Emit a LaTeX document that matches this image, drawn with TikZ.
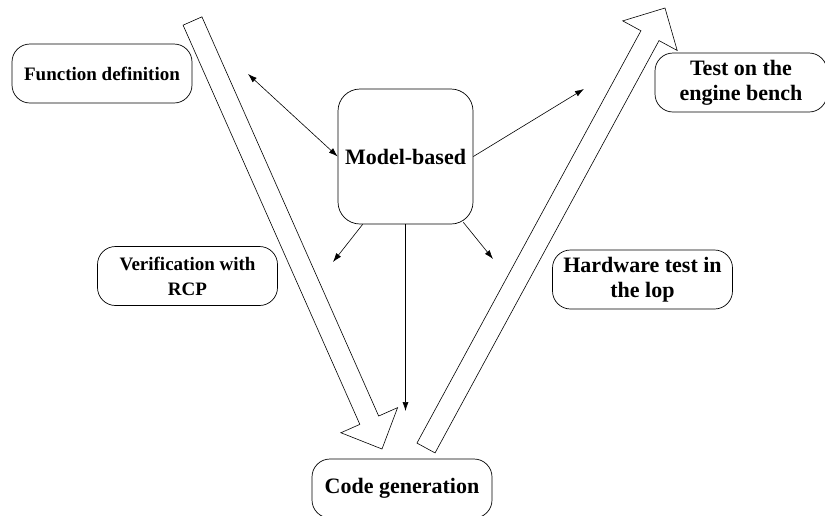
\documentclass[tikz,border=0pt]{standalone}
\usepackage{fontspec}
\setmainfont{Liberation Serif}
\usetikzlibrary{calc,arrows.meta}
\tikzset{
  stage/.style={draw, line width=0.7pt, rounded corners=18pt, align=center,
    minimum width=180pt, minimum height=59pt, inner sep=0pt,
    font=\bfseries\fontsize{22}{25}\selectfont},
  smalltext/.style={font=\bfseries\fontsize{19}{25}\selectfont},
  link/.style={line width=0.6pt, -{Latex[length=9pt,width=6pt]}},
  twolink/.style={line width=0.6pt, {Latex[length=9pt,width=6pt]}-{Latex[length=9pt,width=6pt]}},
}
% hollow arrow: name, tail, tip
\newcommand\hollowarrow[3]{%
  \coordinate (#1b) at ($(#3)!31.5pt!(#2)$);
  \draw[line width=0.6pt, line join=miter]
    ($(#2)!10.3pt!90:(#3)$) -- ($(#1b)!10.3pt!90:(#3)$)
    -- ($(#1b)!31pt!90:(#3)$) -- (#3) -- ($(#1b)!31pt!-90:(#3)$)
    -- ($(#1b)!10.3pt!-90:(#3)$) -- ($(#2)!10.3pt!-90:(#3)$) -- cycle;
}
\begin{document}
\begin{tikzpicture}[x=1pt,y=-1pt]
\useasboundingbox (0,0) rectangle (825,515);
%
\node[stage,smalltext] (fundef) at (102,73.5) {Function definition};
\node[stage,minimum width=135pt,minimum height=135pt,rounded corners=22pt] (model) at (405.5,156.5) {Model-based};
\node[stage,minimum width=172pt] (bench) at (741,82.5) {Test on the\\engine bench};
\node[stage,smalltext] (verif) at (187.5,276) {Verification with\\RCP};
\node[stage] (hil) at (642.5,279.5) {Hardware test in\\the lop};
\node[stage] (codegen) at (402,488.5) {Code generation};
%
\coordinate (ltail) at (192.5,21);
\coordinate (ltip) at (382,449);
\coordinate (rtail) at (426,448);
\coordinate (rtip) at (665,8);
\hollowarrow{left}{ltail}{ltip}
\hollowarrow{right}{rtail}{rtip}
%
\coordinate (fdend) at (248,74);
\coordinate (benchend) at (584,89);
\coordinate (verifend) at (333,262);
\coordinate (hilend) at (493,259);
\coordinate (codeend) at (405.5,411);
\draw[twolink] (fdend) -- (model.west);
\draw[link] (model.east) -- (benchend);
\draw[link] ([xshift=25pt]model.south west) -- (verifend);
\draw[link] ([xshift=-10pt,yshift=2pt]model.south east) -- (hilend);
\draw[link] (model.south) -- (codeend);
\end{tikzpicture}
\end{document}
